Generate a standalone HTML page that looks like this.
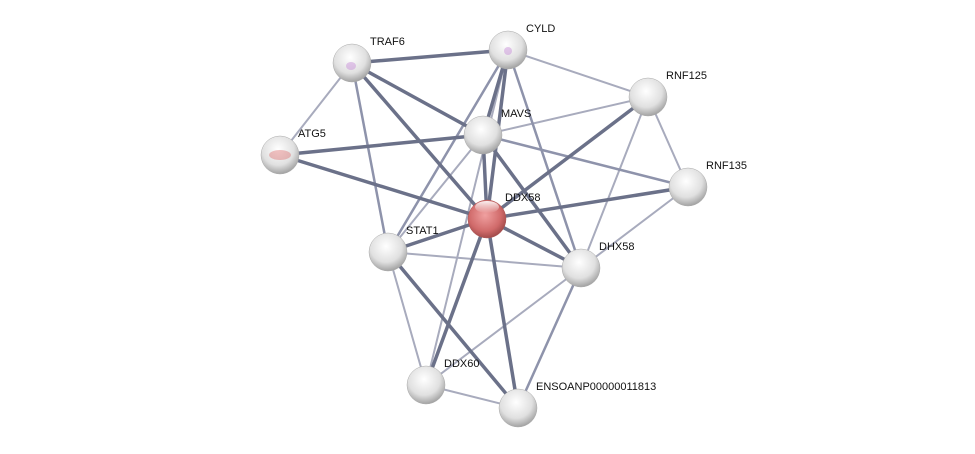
<!DOCTYPE html>
<html><head><meta charset="utf-8"><style>
html,body{margin:0;padding:0;background:#fff;}
svg{display:block;}
text{font-family:"Liberation Sans",sans-serif;font-size:11px;fill:#111;}
</style></head><body>
<svg width="975" height="454" viewBox="0 0 975 454">
<defs>
<radialGradient id="g" cx="0.45" cy="0.35" r="0.7">
<stop offset="0" stop-color="#ffffff"/><stop offset="0.6" stop-color="#e0e0e0"/><stop offset="1" stop-color="#959595"/>
</radialGradient>
<radialGradient id="r" cx="0.45" cy="0.4" r="0.7">
<stop offset="0" stop-color="#f0a0a0"/><stop offset="0.6" stop-color="#d06a6a"/><stop offset="1" stop-color="#8a3a3a"/>
</radialGradient>
<linearGradient id="h" x1="0" y1="0" x2="0" y2="1">
<stop offset="0" stop-color="#fff" stop-opacity="0.9"/><stop offset="1" stop-color="#fff" stop-opacity="0"/>
</linearGradient>
</defs>
<g stroke-linecap="round">
<g stroke="#a8abbd" stroke-width="2">
<line x1="352" y1="63" x2="280" y2="155"/>
<line x1="508" y1="50" x2="648" y2="97"/>
<line x1="483" y1="135" x2="648" y2="97"/>
<line x1="483" y1="135" x2="388" y2="252"/>
<line x1="508" y1="50" x2="426" y2="385"/>
<line x1="648" y1="97" x2="688" y2="187"/>
<line x1="648" y1="97" x2="581" y2="268"/>
<line x1="688" y1="187" x2="581" y2="268"/>
<line x1="388" y1="252" x2="581" y2="268"/>
<line x1="388" y1="252" x2="426" y2="385"/>
<line x1="581" y1="268" x2="426" y2="385"/>
<line x1="426" y1="385" x2="518" y2="408"/>
</g>
<g stroke="#8e93ab" stroke-width="2.5">
<line x1="352" y1="63" x2="388" y2="252"/>
<line x1="508" y1="50" x2="388" y2="252"/>
<line x1="508" y1="50" x2="581" y2="268"/>
<line x1="483" y1="135" x2="688" y2="187"/>
<line x1="581" y1="268" x2="518" y2="408"/>
</g>
<g stroke="#6b7189" stroke-width="3.5">
<line x1="352" y1="63" x2="508" y2="50"/>
<line x1="352" y1="63" x2="483" y2="135"/>
<line x1="352" y1="63" x2="487" y2="219"/>
<line x1="280" y1="155" x2="483" y2="135"/>
<line x1="280" y1="155" x2="487" y2="219"/>
<line x1="508" y1="50" x2="483" y2="135"/>
<line x1="508" y1="50" x2="487" y2="219"/>
<line x1="483" y1="135" x2="487" y2="219"/>
<line x1="483" y1="135" x2="581" y2="268"/>
<line x1="648" y1="97" x2="487" y2="219"/>
<line x1="688" y1="187" x2="487" y2="219"/>
<line x1="487" y1="219" x2="388" y2="252"/>
<line x1="487" y1="219" x2="581" y2="268"/>
<line x1="487" y1="219" x2="426" y2="385"/>
<line x1="487" y1="219" x2="518" y2="408"/>
<line x1="388" y1="252" x2="518" y2="408"/>
</g>
</g>
<g stroke="#aaa" stroke-width="0.5">
<circle cx="352" cy="63" r="19" fill="url(#g)"/>
<circle cx="508" cy="50" r="19" fill="url(#g)"/>
<circle cx="648" cy="97" r="19" fill="url(#g)"/>
<circle cx="483" cy="135" r="19" fill="url(#g)"/>
<circle cx="280" cy="155" r="19" fill="url(#g)"/>
<circle cx="688" cy="187" r="19" fill="url(#g)"/>
<circle cx="487" cy="219" r="19" fill="url(#r)" stroke="#a55"/>
<circle cx="388" cy="252" r="19" fill="url(#g)"/>
<circle cx="581" cy="268" r="19" fill="url(#g)"/>
<circle cx="426" cy="385" r="19" fill="url(#g)"/>
<circle cx="518" cy="408" r="19" fill="url(#g)"/>
</g>
<ellipse cx="351" cy="66" rx="5" ry="4" fill="#c58ad6" opacity="0.45"/>
<ellipse cx="508" cy="51" rx="4" ry="4" fill="#c58ad6" opacity="0.45"/>
<ellipse cx="280" cy="155" rx="11" ry="5" fill="#d66" opacity="0.4"/>
<ellipse cx="487" cy="207" rx="12" ry="6" fill="url(#h)"/>
<text x="370" y="45">TRAF6</text>
<text x="526" y="32">CYLD</text>
<text x="666" y="79">RNF125</text>
<text x="501" y="117">MAVS</text>
<text x="298" y="137">ATG5</text>
<text x="706" y="169">RNF135</text>
<text x="505" y="201">DDX58</text>
<text x="406" y="234">STAT1</text>
<text x="599" y="250">DHX58</text>
<text x="444" y="367">DDX60</text>
<text x="536" y="390">ENSOANP00000011813</text>
</svg>
</body></html>
